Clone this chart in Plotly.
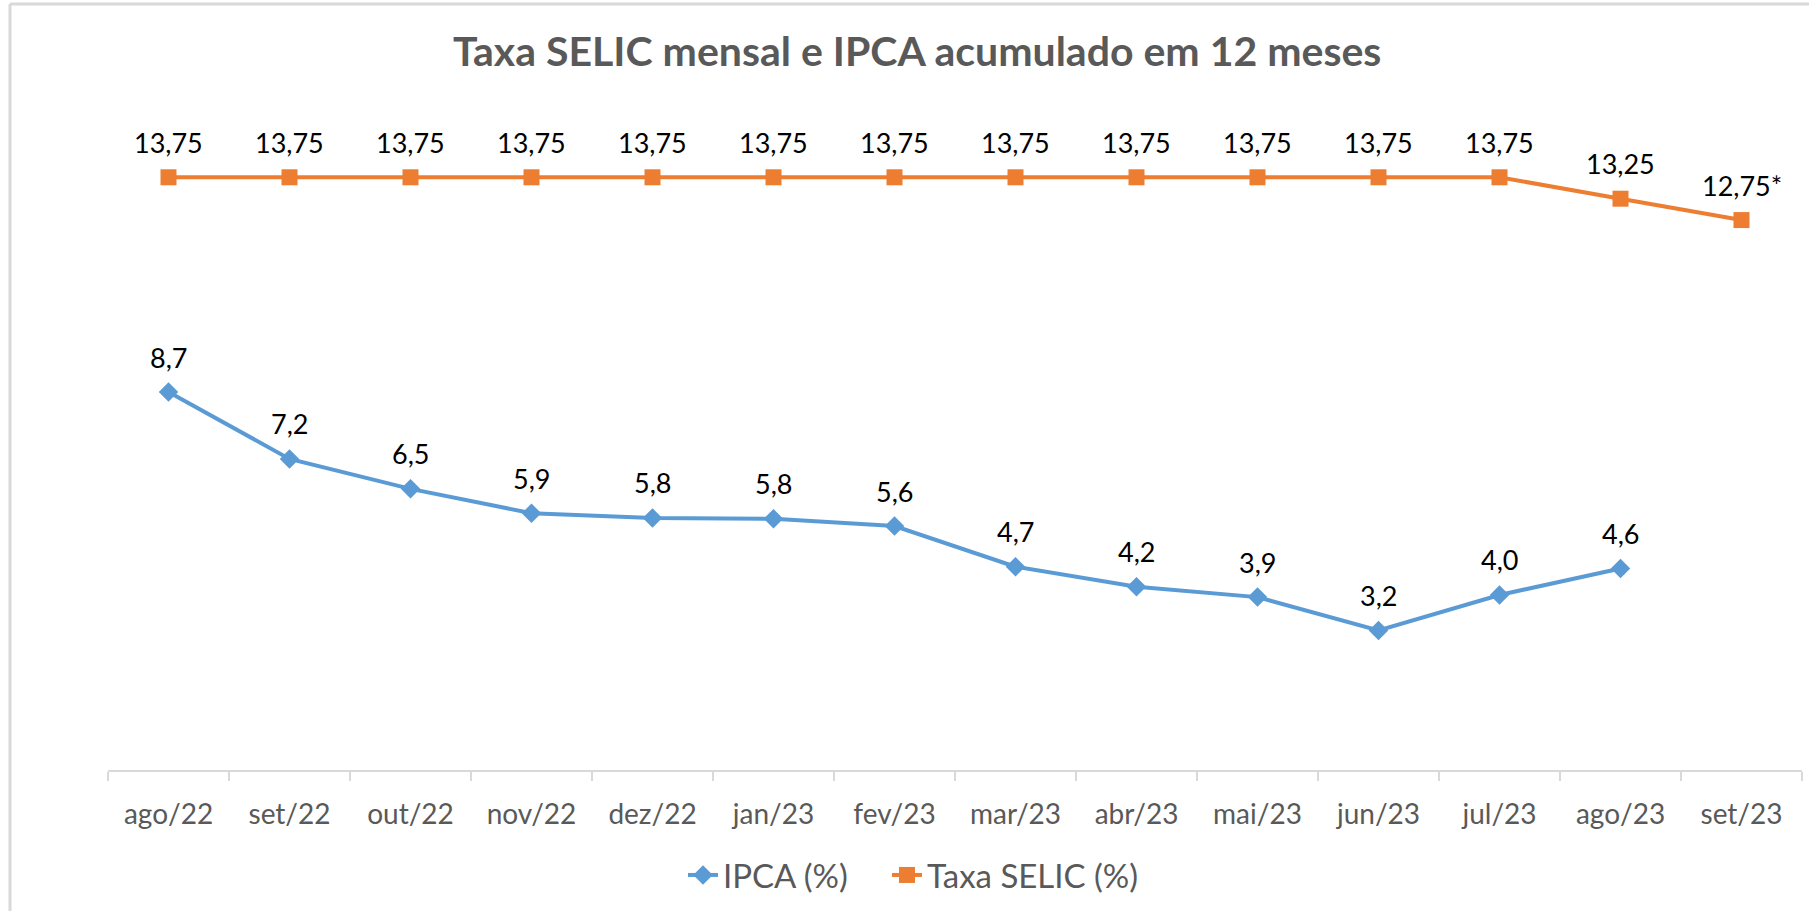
import plotly.graph_objects as go

# Dados
meses = ["ago/22", "set/22", "out/22", "nov/22", "dez/22", "jan/23", "fev/23",
         "mar/23", "abr/23", "mai/23", "jun/23", "jul/23", "ago/23", "set/23"]
ipca = [8.73, 7.17, 6.47, 5.90, 5.79, 5.77, 5.60, 4.65, 4.18, 3.94, 3.16, 3.99, 4.61]
ipca_rotulos = ["8,7", "7,2", "6,5", "5,9", "5,8", "5,8", "5,6", "4,7", "4,2", "3,9", "3,2", "4,0", "4,6"]
selic = [13.75] * 12 + [13.25, 12.75]
selic_rotulos = ["13,75"] * 12 + ["13,25", "12,75*"]

AZUL = "#5B9BD5"
LARANJA = "#ED7D31"
CINZA = "#595959"
BORDA = "#D9D9D9"
FONTE = "Lato"

fig = go.Figure()

fig.add_trace(go.Scatter(
    x=meses[:len(ipca)], y=ipca, name="IPCA (%)", mode="lines+markers",
    line=dict(color=AZUL, width=4),
    marker=dict(symbol="diamond", size=15, color=AZUL),
    legend="legend",
))
fig.add_trace(go.Scatter(
    x=meses, y=selic, name="Taxa SELIC (%)", mode="lines+markers",
    line=dict(color=LARANJA, width=4),
    marker=dict(symbol="square", size=16, color=LARANJA),
    legend="legend2",
))

# Rótulos de dados acima dos pontos
for serie, rotulos in ((ipca, ipca_rotulos), (selic, selic_rotulos)):
    for m, v, t in zip(meses, serie, rotulos):
        fig.add_annotation(x=m, y=v, text=t, showarrow=False, yshift=35,
                           font=dict(family=FONTE, size=27, color="#000000"))

# Borda do gráfico (recortada à direita e embaixo)
L, R, T, B = 108, 1802, 81, 770
W, H = R - L, B - T
def px(xp): return (xp - L) / W
def py(yp): return (B - yp) / H
fig.add_shape(type="line", xref="paper", yref="paper", x0=px(10), x1=px(1809), y0=py(4), y1=py(4),
              line=dict(color=BORDA, width=3))
fig.add_shape(type="line", xref="paper", yref="paper", x0=px(10), x1=px(10), y0=py(4), y1=py(911),
              line=dict(color=BORDA, width=3))

legenda = dict(orientation="h", xanchor="left", y=py(875), yanchor="middle",
               font=dict(family=FONTE, size=33, color=CINZA))

fig.update_layout(
    width=1809, height=911,
    margin=dict(l=L, r=1809 - R, t=T, b=911 - B),
    paper_bgcolor="white", plot_bgcolor="white",
    title=dict(text="<b>Taxa SELIC mensal e IPCA acumulado em 12 meses</b>",
               x=0.507, xanchor="center", y=1 - 52 / 911, yanchor="middle",
               font=dict(family=FONTE, size=41, color=CINZA)),
    showlegend=True,
    legend=dict(legenda, x=px(683)),
    legend2=dict(legenda, x=px(887)),
    xaxis=dict(type="category", range=[-0.5, len(meses) - 0.5],
               showline=True, linecolor=BORDA, linewidth=2,
               ticks="outside", tickson="boundaries", ticklen=9, tickcolor=BORDA, tickwidth=2,
               ticklabelstandoff=18, showgrid=False, zeroline=False,
               tickfont=dict(family=FONTE, size=28, color=CINZA)),
    yaxis=dict(range=[-0.1, 16], visible=False, showgrid=False, zeroline=False),
)

fig.write_html("out.html", config={"displayModeBar": False},
               post_script="document.body.style.margin='0';")
